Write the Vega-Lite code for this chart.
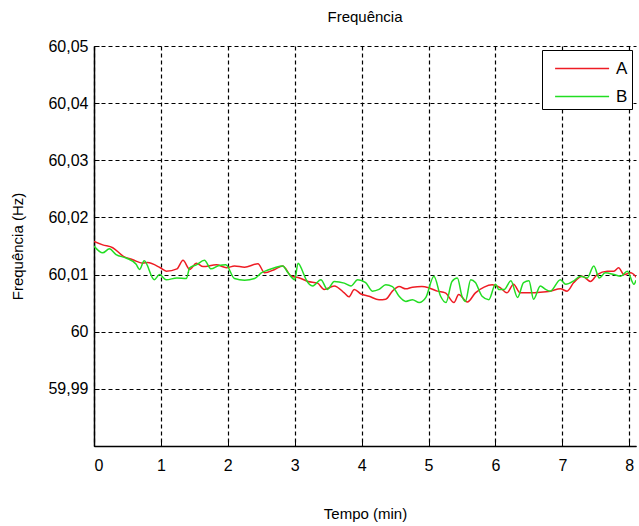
{
  "$schema": "https://vega.github.io/schema/vega-lite/v6.json",
  "width": 542,
  "height": 400,
  "autosize": {"type": "none"},
  "padding": {"left": 94, "top": 46, "right": 3, "bottom": 80},
  "background": "white",
  "title": {"text": "Frequência", "fontSize": 15, "fontWeight": "normal", "font": "Liberation Sans", "color": "black", "offset": 13},
  "config": {
    "view": {"stroke": null},
    "axis": {
      "domainColor": "black", "domainWidth": 1.5,
      "gridColor": "black", "gridOpacity": 1, "gridDash": [4, 3], "gridWidth": 1.2,
      "tickColor": "black", "tickSize": -5,
      "labelFont": "Liberation Sans", "labelFontSize": 16, "labelColor": "black",
      "titleFont": "Liberation Sans", "titleFontSize": 15, "titleFontWeight": "normal", "titleColor": "black"
    },
    "legend": {
      "labelFont": "Liberation Sans", "labelFontSize": 17, "labelColor": "black"
    }
  },
  "data": {"values": [
    {"t":0,"v":60.0158,"s":"A"},{"t":0.13,"v":60.0152,"s":"A"},{"t":0.28,"v":60.0147,"s":"A"},{"t":0.44,"v":60.0132,"s":"A"},{"t":0.58,"v":60.0126,"s":"A"},{"t":0.73,"v":60.012,"s":"A"},{"t":0.8,"v":60.0121,"s":"A"},{"t":0.99,"v":60.0112,"s":"A"},{"t":1.08,"v":60.0106,"s":"A"},{"t":1.24,"v":60.011,"s":"A"},{"t":1.33,"v":60.0125,"s":"A"},{"t":1.43,"v":60.0109,"s":"A"},{"t":1.53,"v":60.012,"s":"A"},{"t":1.63,"v":60.0114,"s":"A"},{"t":1.83,"v":60.0117,"s":"A"},{"t":1.98,"v":60.0112,"s":"A"},{"t":2.1,"v":60.0115,"s":"A"},{"t":2.25,"v":60.0113,"s":"A"},{"t":2.45,"v":60.0119,"s":"A"},{"t":2.55,"v":60.0103,"s":"A"},{"t":2.7,"v":60.0109,"s":"A"},{"t":2.82,"v":60.0115,"s":"A"},{"t":2.95,"v":60.0097,"s":"A"},{"t":3.05,"v":60.0095,"s":"A"},{"t":3.2,"v":60.0088,"s":"A"},{"t":3.34,"v":60.0085,"s":"A"},{"t":3.44,"v":60.0074,"s":"A"},{"t":3.59,"v":60.008,"s":"A"},{"t":3.74,"v":60.0068,"s":"A"},{"t":3.81,"v":60.0061,"s":"A"},{"t":3.89,"v":60.0074,"s":"A"},{"t":3.99,"v":60.0066,"s":"A"},{"t":4.11,"v":60.0062,"s":"A"},{"t":4.26,"v":60.0056,"s":"A"},{"t":4.36,"v":60.0057,"s":"A"},{"t":4.46,"v":60.0071,"s":"A"},{"t":4.56,"v":60.0079,"s":"A"},{"t":4.66,"v":60.0075,"s":"A"},{"t":4.76,"v":60.0078,"s":"A"},{"t":4.9,"v":60.0079,"s":"A"},{"t":5.0,"v":60.0077,"s":"A"},{"t":5.13,"v":60.0071,"s":"A"},{"t":5.25,"v":60.0068,"s":"A"},{"t":5.38,"v":60.0051,"s":"A"},{"t":5.45,"v":60.0065,"s":"A"},{"t":5.58,"v":60.0052,"s":"A"},{"t":5.7,"v":60.0068,"s":"A"},{"t":5.83,"v":60.0078,"s":"A"},{"t":5.95,"v":60.0082,"s":"A"},{"t":6.07,"v":60.0077,"s":"A"},{"t":6.17,"v":60.0068,"s":"A"},{"t":6.27,"v":60.0083,"s":"A"},{"t":6.37,"v":60.0068,"s":"A"},{"t":6.52,"v":60.0068,"s":"A"},{"t":6.67,"v":60.0069,"s":"A"},{"t":6.82,"v":60.0071,"s":"A"},{"t":6.97,"v":60.0075,"s":"A"},{"t":7.07,"v":60.0071,"s":"A"},{"t":7.17,"v":60.0086,"s":"A"},{"t":7.3,"v":60.0097,"s":"A"},{"t":7.42,"v":60.0088,"s":"A"},{"t":7.52,"v":60.01,"s":"A"},{"t":7.67,"v":60.0106,"s":"A"},{"t":7.77,"v":60.0106,"s":"A"},{"t":7.84,"v":60.0112,"s":"A"},{"t":7.92,"v":60.01,"s":"A"},{"t":8.02,"v":60.0103,"s":"A"},{"t":8.12,"v":60.0093,"s":"A"},
    {"t":0,"v":60.015,"s":"B"},{"t":0.13,"v":60.0138,"s":"B"},{"t":0.23,"v":60.0145,"s":"B"},{"t":0.33,"v":60.0135,"s":"B"},{"t":0.48,"v":60.0129,"s":"B"},{"t":0.63,"v":60.0118,"s":"B"},{"t":0.68,"v":60.0109,"s":"B"},{"t":0.75,"v":60.0124,"s":"B"},{"t":0.9,"v":60.0091,"s":"B"},{"t":0.98,"v":60.01,"s":"B"},{"t":1.08,"v":60.0091,"s":"B"},{"t":1.24,"v":60.0094,"s":"B"},{"t":1.38,"v":60.0093,"s":"B"},{"t":1.43,"v":60.0112,"s":"B"},{"t":1.53,"v":60.0117,"s":"B"},{"t":1.65,"v":60.0125,"s":"B"},{"t":1.75,"v":60.011,"s":"B"},{"t":1.87,"v":60.0116,"s":"B"},{"t":1.97,"v":60.0117,"s":"B"},{"t":2.1,"v":60.0093,"s":"B"},{"t":2.25,"v":60.009,"s":"B"},{"t":2.4,"v":60.0093,"s":"B"},{"t":2.5,"v":60.0103,"s":"B"},{"t":2.6,"v":60.0108,"s":"B"},{"t":2.7,"v":60.0112,"s":"B"},{"t":2.82,"v":60.0115,"s":"B"},{"t":2.9,"v":60.0103,"s":"B"},{"t":3.0,"v":60.0091,"s":"B"},{"t":3.05,"v":60.012,"s":"B"},{"t":3.12,"v":60.0105,"s":"B"},{"t":3.17,"v":60.0091,"s":"B"},{"t":3.27,"v":60.008,"s":"B"},{"t":3.39,"v":60.0091,"s":"B"},{"t":3.49,"v":60.0074,"s":"B"},{"t":3.59,"v":60.0088,"s":"B"},{"t":3.74,"v":60.0085,"s":"B"},{"t":3.84,"v":60.008,"s":"B"},{"t":3.94,"v":60.0091,"s":"B"},{"t":4.06,"v":60.0086,"s":"B"},{"t":4.16,"v":60.0071,"s":"B"},{"t":4.26,"v":60.0074,"s":"B"},{"t":4.36,"v":60.0082,"s":"B"},{"t":4.46,"v":60.0079,"s":"B"},{"t":4.56,"v":60.0062,"s":"B"},{"t":4.66,"v":60.0053,"s":"B"},{"t":4.76,"v":60.0056,"s":"B"},{"t":4.86,"v":60.0051,"s":"B"},{"t":4.96,"v":60.006,"s":"B"},{"t":5.08,"v":60.0097,"s":"B"},{"t":5.18,"v":60.0062,"s":"B"},{"t":5.26,"v":60.0051,"s":"B"},{"t":5.35,"v":60.0088,"s":"B"},{"t":5.43,"v":60.0094,"s":"B"},{"t":5.5,"v":60.0062,"s":"B"},{"t":5.55,"v":60.0053,"s":"B"},{"t":5.63,"v":60.0091,"s":"B"},{"t":5.7,"v":60.0086,"s":"B"},{"t":5.8,"v":60.0062,"s":"B"},{"t":5.9,"v":60.0056,"s":"B"},{"t":6.0,"v":60.0083,"s":"B"},{"t":6.05,"v":60.0074,"s":"B"},{"t":6.13,"v":60.0074,"s":"B"},{"t":6.23,"v":60.0089,"s":"B"},{"t":6.33,"v":60.006,"s":"B"},{"t":6.42,"v":60.0086,"s":"B"},{"t":6.5,"v":60.0089,"s":"B"},{"t":6.57,"v":60.0057,"s":"B"},{"t":6.67,"v":60.008,"s":"B"},{"t":6.75,"v":60.0074,"s":"B"},{"t":6.82,"v":60.0071,"s":"B"},{"t":6.97,"v":60.0091,"s":"B"},{"t":7.05,"v":60.0083,"s":"B"},{"t":7.17,"v":60.0089,"s":"B"},{"t":7.27,"v":60.0097,"s":"B"},{"t":7.37,"v":60.0094,"s":"B"},{"t":7.47,"v":60.0115,"s":"B"},{"t":7.55,"v":60.0094,"s":"B"},{"t":7.64,"v":60.0103,"s":"B"},{"t":7.77,"v":60.01,"s":"B"},{"t":7.87,"v":60.0097,"s":"B"},{"t":7.97,"v":60.0106,"s":"B"},{"t":8.07,"v":60.0083,"s":"B"},{"t":8.1,"v":60.009,"s":"B"}
  ]},
  "mark": {"type": "line", "strokeWidth": 1.5, "interpolate": "monotone", "clip": true},
  "encoding": {
    "x": {"field": "t", "type": "quantitative",
      "scale": {"domain": [0, 8.1], "nice": false, "zero": false},
      "axis": {"title": "Tempo (min)", "values": [0,1,2,3,4,5,6,7,8], "format": "d", "labelPadding": 16, "titlePadding": 33}},
    "y": {"field": "v", "type": "quantitative",
      "scale": {"domain": [59.98, 60.05], "nice": false, "zero": false},
      "axis": {"title": "Frequência (Hz)", "values": [59.98,59.99,60,60.01,60.02,60.03,60.04,60.05], "format": ".2~f",
        "labelExpr": "datum.value < 59.985 ? '' : replace(datum.label, '.', ',')", "labelPadding": 11, "titlePadding": 22}},
    "color": {"field": "s", "type": "nominal",
      "scale": {"domain": ["A", "B"], "range": ["#ee1c24", "#22dd22"]},
      "legend": {"title": null, "orient": "top-right", "offset": 4, "symbolType": "M-0.4,0H3.6", "symbolSize": 729, "symbolStrokeWidth": 1.5,
        "labelExpr": "datum.label + '     '",
        "strokeColor": "black", "fillColor": "white", "padding": 4, "rowPadding": 5, "labelOffset": 41, "cornerRadius": 0}}
  }
}
